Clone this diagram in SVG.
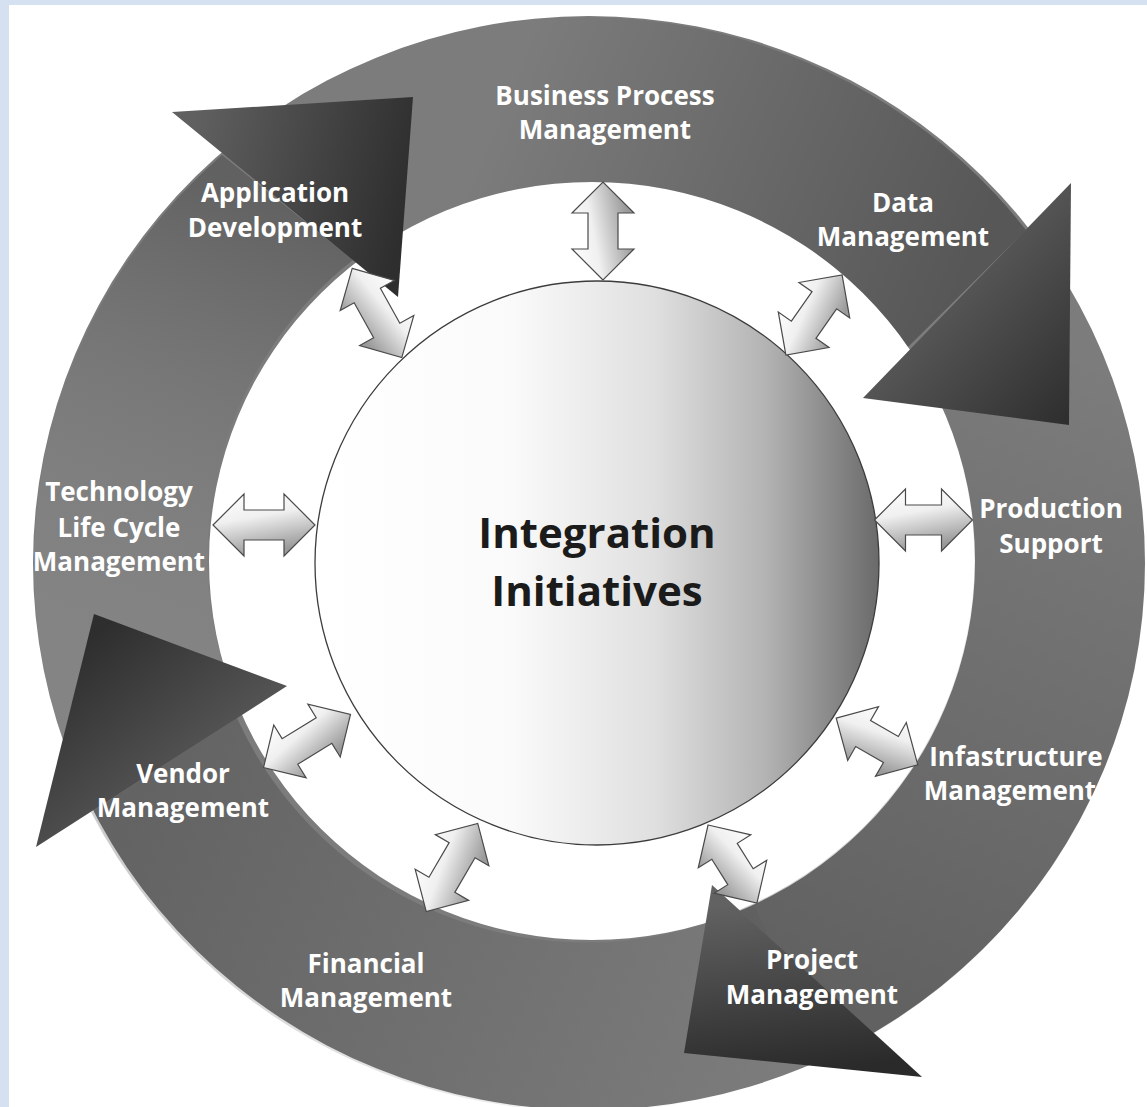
<svg xmlns="http://www.w3.org/2000/svg" width="1147" height="1107" viewBox="0 0 1147 1107">
<style>
.lbl{font-family:"Open Sans","Noto Sans","DejaVu Sans",sans-serif;font-weight:700;font-size:26px;fill:#ffffff;text-anchor:middle}
.ctr{font-family:"Open Sans","Noto Sans","DejaVu Sans",sans-serif;font-weight:700;font-size:42px;fill:#1b1b1b;text-anchor:middle}
.conn{fill:url(#gConn);stroke:#4a4a4a;stroke-width:1.2;stroke-linejoin:miter}
.band{fill:#7c7c7c;fill-rule:evenodd}
</style>
<defs>
<linearGradient id="gCenter" x1="0" y1="0" x2="1" y2="0">
<stop offset="0" stop-color="#ffffff"/>
<stop offset="0.35" stop-color="#fafafa"/>
<stop offset="0.6" stop-color="#e0e0e0"/>
<stop offset="0.8" stop-color="#b3b3b3"/>
<stop offset="1" stop-color="#6a6a6a"/>
</linearGradient>
<linearGradient id="gConn" x1="0" y1="0" x2="0.3" y2="1">
<stop offset="0" stop-color="#ffffff"/>
<stop offset="0.45" stop-color="#f0f0f0"/>
<stop offset="1" stop-color="#9a9a9a"/>
</linearGradient>
<linearGradient id="gAD" gradientUnits="userSpaceOnUse" x1="190" y1="140" x2="410" y2="190">
<stop offset="0" stop-color="#606060"/>
<stop offset="1" stop-color="#2e2e2e"/>
</linearGradient>
<linearGradient id="gDM" gradientUnits="userSpaceOnUse" x1="920" y1="280" x2="1069" y2="420">
<stop offset="0" stop-color="#5e5e5e"/>
<stop offset="1" stop-color="#2e2e2e"/>
</linearGradient>
<linearGradient id="gPM" gradientUnits="userSpaceOnUse" x1="760" y1="900" x2="780" y2="1075">
<stop offset="0" stop-color="#626262"/>
<stop offset="1" stop-color="#2a2a2a"/>
</linearGradient>
<linearGradient id="gVM" gradientUnits="userSpaceOnUse" x1="100" y1="630" x2="230" y2="790">
<stop offset="0" stop-color="#2e2e2e"/>
<stop offset="1" stop-color="#5e5e5e"/>
</linearGradient>
<linearGradient id="shC" gradientUnits="userSpaceOnUse" x1="500" y1="100" x2="960" y2="290">
<stop offset="0" stop-color="#000" stop-opacity="0"/>
<stop offset="1" stop-color="#000" stop-opacity="0.3"/>
</linearGradient>
<linearGradient id="shD" gradientUnits="userSpaceOnUse" x1="1100" y1="360" x2="840" y2="1000">
<stop offset="0" stop-color="#000" stop-opacity="0"/>
<stop offset="1" stop-color="#000" stop-opacity="0.22"/>
</linearGradient>
<linearGradient id="shE" gradientUnits="userSpaceOnUse" x1="800" y1="1050" x2="150" y2="780">
<stop offset="0" stop-color="#000" stop-opacity="0"/>
<stop offset="1" stop-color="#000" stop-opacity="0.2"/>
</linearGradient>
<linearGradient id="shB" gradientUnits="userSpaceOnUse" x1="80" y1="740" x2="290" y2="200">
<stop offset="0" stop-color="#fff" stop-opacity="0.06"/>
<stop offset="1" stop-color="#000" stop-opacity="0.22"/>
</linearGradient>
<polygon id="d46" class="conn" points="-46,0 -15,-31 -15,-15 15,-15 15,-31 46,0 15,31 15,15 -15,15 -15,31"/>
<polygon id="d47" class="conn" points="-47,0 -16,-31 -16,-15 16,-15 16,-31 47,0 16,31 16,15 -16,15 -16,31"/>
<polygon id="d49" class="conn" points="-49,0 -18,-31 -18,-15 18,-15 18,-31 49,0 18,31 18,15 -18,15 -18,31"/>
<polygon id="d51" class="conn" points="-51,0 -20,-31 -20,-15 20,-15 20,-31 51,0 20,31 20,15 -20,15 -20,31"/>
</defs>

<rect width="1147" height="1107" fill="#d5e0f0"/>
<rect x="9" y="5" width="1138" height="1102" fill="#ffffff"/>

<g id="ring">
<path class="band" d="M33,563 A556,547 0 1,0 1145,563 A556,547 0 1,0 33,563 Z M209,561 A383,379 0 1,0 975,561 A383,379 0 1,0 209,561 Z"/>
<path d="M354,67 A556,547 0 0,1 1026,230 L908,347 A383,379 0 0,0 430,217.5 Z" fill="url(#shC)"/>
<path d="M1093,332 A556,547 0 0,1 874,1033 L739,910 A383,379 0 0,0 939,401 Z" fill="url(#shD)"/>
<path d="M824,1059 A556,547 0 0,1 91,812 L237,718 A383,379 0 0,0 754,904.5 Z" fill="url(#shE)"/>
<path d="M66.5,750 A556,547 0 0,1 222,155 L353,260 A383,379 0 0,0 232,690.6 Z" fill="url(#shB)"/>
</g>

<g id="arrowheads">
<polygon id="head-ad" points="172,112 413,97 398,297" fill="url(#gAD)"/>
<polygon id="head-dm" points="1071,183 1069,425 863,398" fill="url(#gDM)"/>
<polygon id="head-pm" points="922,1077 684,1053 712,885" fill="url(#gPM)"/>
<polygon id="head-vm" points="94,614 36,847 287,686" fill="url(#gVM)"/>
</g>

<g id="center-node">
<circle cx="597" cy="563" r="282" fill="url(#gCenter)" stroke="#3c3c3c" stroke-width="1.3"/>
<text class="ctr" x="597" y="548">Integration</text>
<text class="ctr" x="597" y="606">Initiatives</text>
</g>

<g id="connectors">
<use href="#d49" transform="translate(603,231) rotate(-90)"/>
<use href="#d49" transform="translate(814,315) rotate(-55)"/>
<use href="#d49" transform="translate(923.5,520)"/>
<use href="#d47" transform="translate(877,741.5) rotate(29.8)"/>
<use href="#d46" transform="translate(732.5,864) rotate(57.9)"/>
<use href="#d51" transform="translate(452,867.5) rotate(-59.7)"/>
<use href="#d51" transform="translate(307,741) rotate(-31.5)"/>
<use href="#d51" transform="translate(264,525)"/>
<use href="#d51" transform="translate(377,313) rotate(60.9)"/>
</g>

<g id="node-bpm"><text class="lbl" x="605" y="105">Business Process</text><text class="lbl" x="605" y="139">Management</text></g>
<g id="node-ad"><text class="lbl" x="275" y="202">Application</text><text class="lbl" x="275" y="237">Development</text></g>
<g id="node-dm"><text class="lbl" x="903" y="212">Data</text><text class="lbl" x="903" y="246">Management</text></g>
<g id="node-tlc"><text class="lbl" x="119" y="501">Technology</text><text class="lbl" x="119" y="537">Life Cycle</text><text class="lbl" x="119" y="571">Management</text></g>
<g id="node-ps"><text class="lbl" x="1051" y="518">Production</text><text class="lbl" x="1051" y="553">Support</text></g>
<g id="node-im"><text class="lbl" x="1016" y="766">Infastructure</text><text class="lbl" x="1010" y="800">Management</text></g>
<g id="node-pm"><text class="lbl" x="812" y="969">Project</text><text class="lbl" x="812" y="1004">Management</text></g>
<g id="node-fm"><text class="lbl" x="366" y="973">Financial</text><text class="lbl" x="366" y="1007">Management</text></g>
<g id="node-vm"><text class="lbl" x="183" y="783">Vendor</text><text class="lbl" x="183" y="817">Management</text></g>
</svg>
